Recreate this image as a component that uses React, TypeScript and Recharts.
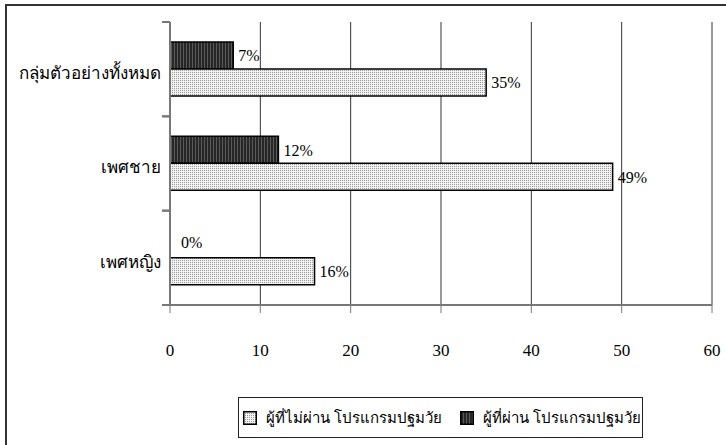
import React from 'react';
import { BarChart, Bar, XAxis, YAxis, CartesianGrid, Legend, LabelList } from 'recharts';

const categories = ['กลุ่มตัวอย่างทั้งหมด', 'เพศชาย', 'เพศหญิง'];
const passedValues = [7, 12, 0];
const notPassedValues = [35, 49, 16];
const xTicks = [0, 10, 20, 30, 40, 50, 60];

const notPassedName = 'ผู้ที่ไม่ผ่าน โปรแกรมปฐมวัย';
const passedName = 'ผู้ที่ผ่าน โปรแกรมปฐมวัย';

const data = categories.map((name, i) => ({
  name,
  passed: passedValues[i],
  notPassed: notPassedValues[i],
}));

const FONT = "'Liberation Serif', 'DejaVu Serif', serif";

const CategoryTick = (props: any) => {
  const { x, y, payload } = props;
  const half = payload && payload.offset ? payload.offset : 47.2;
  return (
    <g>
      <text x={x - 9} y={y + 6} textAnchor="end" dominantBaseline="middle" fontSize={17} fontFamily={FONT} fill="#000">
        {payload.value}
      </text>
      <line x1={x - 8} x2={x} y1={y - half} y2={y - half} stroke="#777" strokeWidth={2} />
      <line x1={x - 8} x2={x} y1={y + half} y2={y + half} stroke="#777" strokeWidth={2} />
    </g>
  );
};

// zero-valued bars are not drawn, so their "0%" label is placed from the neighbouring bar
const ZeroPassedLabel = (props: any) => {
  const { x, y, height, value } = props;
  if (value !== 0) return null;
  return (
    <text x={Number(x) + 11} y={Number(y) - Number(height) / 2} dominantBaseline="middle" fontSize={16} fontFamily={FONT} fill="#000">
      {`${value}%`}
    </text>
  );
};

const Swatch = ({ fill }: { fill: string }) => (
  <svg width={14} height={14} style={{ display: 'block', flex: 'none' }}>
    <rect x={0.75} y={0.75} width={12.5} height={12.5} fill={fill} stroke="#000" strokeWidth={1.5} />
  </svg>
);

const renderLegend = () => (
  <div
    style={{
      boxSizing: 'border-box',
      width: 405,
      height: 41,
      border: '1.5px solid #222',
      background: '#fff',
      display: 'flex',
      alignItems: 'center',
      padding: '0 4px',
      fontFamily: FONT,
      fontSize: 15,
      color: '#000',
      whiteSpace: 'nowrap',
    }}
  >
    <Swatch fill="url(#lightDots)" />
    <span style={{ marginLeft: 9, marginRight: 18 }}>{notPassedName}</span>
    <Swatch fill="url(#darkStripes)" />
    <span style={{ marginLeft: 9 }}>{passedName}</span>
  </div>
);

const App: React.FC = () => {
  return (
    <div style={{ position: 'fixed', left: 0, top: 0, width: 726, height: 445, background: '#fff' }}>
      <div style={{ position: 'absolute', left: 0, top: 0 }}>
        <BarChart
          width={726}
          height={445}
          data={data}
          layout="vertical"
          margin={{ top: 22, right: 14, left: 0, bottom: 0 }}
          barGap={0}
          barCategoryGap="21%"
        >
          <defs>
            <pattern id="lightDots" width={2} height={2} patternUnits="userSpaceOnUse">
              <rect width={2} height={2} fill="#f2f2f2" />
              <rect width={1} height={1} fill="#9a9a9a" />
            </pattern>
            <pattern id="darkStripes" width={3} height={2} patternUnits="userSpaceOnUse">
              <rect width={3} height={2} fill="#262626" />
              <rect width={1} height={2} fill="#5a5a5a" />
            </pattern>
          </defs>
          <CartesianGrid horizontal={false} stroke="#333" />
          <XAxis
            type="number"
            domain={[0, 60]}
            ticks={xTicks}
            height={140}
            axisLine={{ stroke: '#777', strokeWidth: 2 }}
            tickLine={{ stroke: '#777' }}
            tickSize={8}
            tickMargin={31}
            tick={{ fill: '#000', fontSize: 17, fontFamily: FONT }}
          />
          <YAxis
            type="category"
            dataKey="name"
            width={170}
            axisLine={{ stroke: '#777', strokeWidth: 2 }}
            tickLine={false}
            tickSize={0}
            tickMargin={0}
            tick={<CategoryTick />}
          />
          <Legend
            verticalAlign="middle"
            layout="horizontal"
            align="center"
            wrapperStyle={{ top: 397, left: 238, width: 405, height: 41 }}
            content={renderLegend}
          />
          <Bar dataKey="passed" name={passedName} fill="url(#darkStripes)" stroke="#000" strokeWidth={1.5} barSize={27} isAnimationActive={false}>
            <LabelList dataKey="passed" position="right" offset={5} formatter={(v: any) => `${v}%`} style={{ fill: '#000', fontSize: 16, fontFamily: FONT }} />
          </Bar>
          <Bar dataKey="notPassed" name={notPassedName} fill="url(#lightDots)" stroke="#000" strokeWidth={1.5} barSize={27} isAnimationActive={false}>
            <LabelList dataKey="notPassed" position="right" offset={5} formatter={(v: any) => `${v}%`} style={{ fill: '#000', fontSize: 16, fontFamily: FONT }} />
            <LabelList dataKey="passed" content={<ZeroPassedLabel />} />
          </Bar>
        </BarChart>
      </div>
      <div
        style={{
          position: 'absolute',
          left: 5,
          top: 4,
          width: 721,
          height: 441,
          borderTop: '2px solid #333',
          borderLeft: '2px solid #333',
          boxSizing: 'border-box',
          pointerEvents: 'none',
        }}
      />
    </div>
  );
};

export default App;
